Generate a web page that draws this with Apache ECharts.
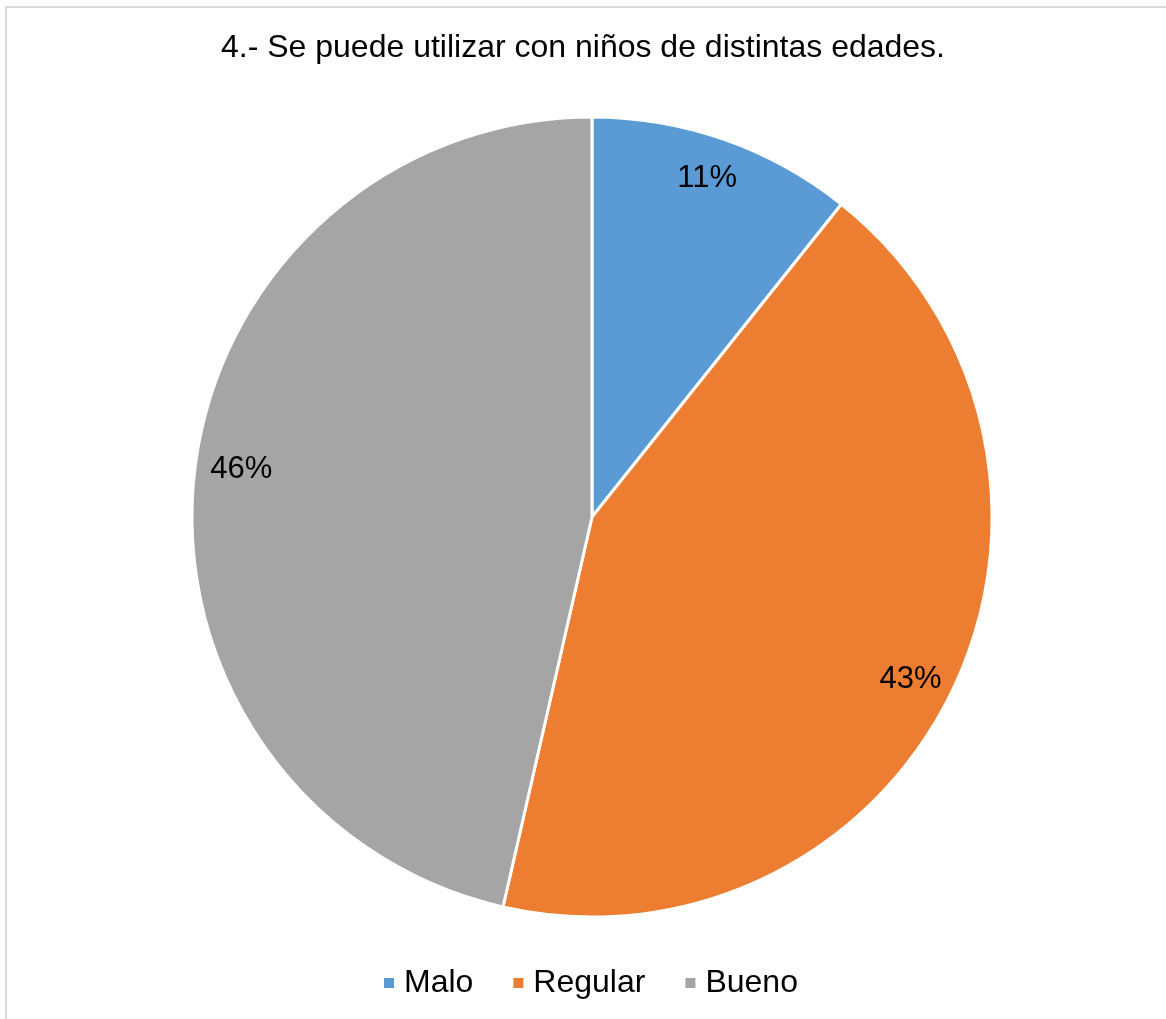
<!DOCTYPE html>
<html>
<head>
<meta charset="utf-8">
<script src="https://cdn.jsdelivr.net/npm/echarts@6/dist/echarts.min.js"></script>
<style>
html,body{margin:0;padding:0;background:#fff;}
#chart{width:1166px;height:1019px;}
</style>
</head>
<body>
<div id="chart"></div>
<script>
const titleText = '4.- Se puede utilizar con niños de distintas edades.';
const categories = ['Malo', 'Regular', 'Bueno'];
const values = [3, 12, 13];
const colors = ['#5B9BD5', '#ED7D31', '#A5A5A5'];

const chart = echarts.init(document.getElementById('chart'));
const data = categories.map((c, i) => ({ name: c, value: values[i], itemStyle: { color: colors[i] } }));
const labelNudge = [[-3, -1], [-4, 7], [5, -7]];
const labelData = categories.map((c, i) => ({ name: c, value: values[i], label: { offset: labelNudge[i] } }));
const font = '"Liberation Sans", Arial, sans-serif';

chart.setOption({
  animation: false,
  backgroundColor: '#fff',
  graphic: [{
    type: 'rect',
    shape: { x: 6, y: 7, width: 1200, height: 1100 },
    style: { fill: 'none', stroke: '#d9d9d9', lineWidth: 2 },
    silent: true
  }],
  title: {
    text: titleText,
    left: 'center',
    top: 27,
    textStyle: { fontFamily: font, fontSize: 32, fontWeight: 'normal', color: '#000' }
  },
  legend: {
    data: categories,
    bottom: 20,
    left: 382,
    padding: 0,
    itemWidth: 12,
    itemHeight: 12,
    itemGap: 38,
    icon: 'rect',
    textStyle: { fontFamily: font, fontSize: 32, color: '#000', padding: [0, 0, 0, 4] }
  },
  series: [{
    type: 'pie',
    center: [592, 517],
    radius: [0, 400],
    startAngle: 90,
    clockwise: true,
    data: data,
    label: { show: false },
    labelLine: { show: false },
    itemStyle: { borderColor: '#fff', borderWidth: 3 },
    emphasis: { disabled: true }
  }, {
    type: 'pie',
    center: [592, 517],
    radius: [310, 400],
    startAngle: 90,
    clockwise: true,
    data: labelData,
    silent: true,
    legendHoverLink: false,
    itemStyle: { color: 'rgba(0,0,0,0)', borderWidth: 0 },
    label: {
      show: true,
      position: 'inside',
      formatter: p => Math.round(p.percent) + '%',
      fontFamily: font,
      fontSize: 31,
      color: '#000'
    },
    labelLine: { show: false },
    emphasis: { disabled: true }
  }]
});
</script>
</body>
</html>
